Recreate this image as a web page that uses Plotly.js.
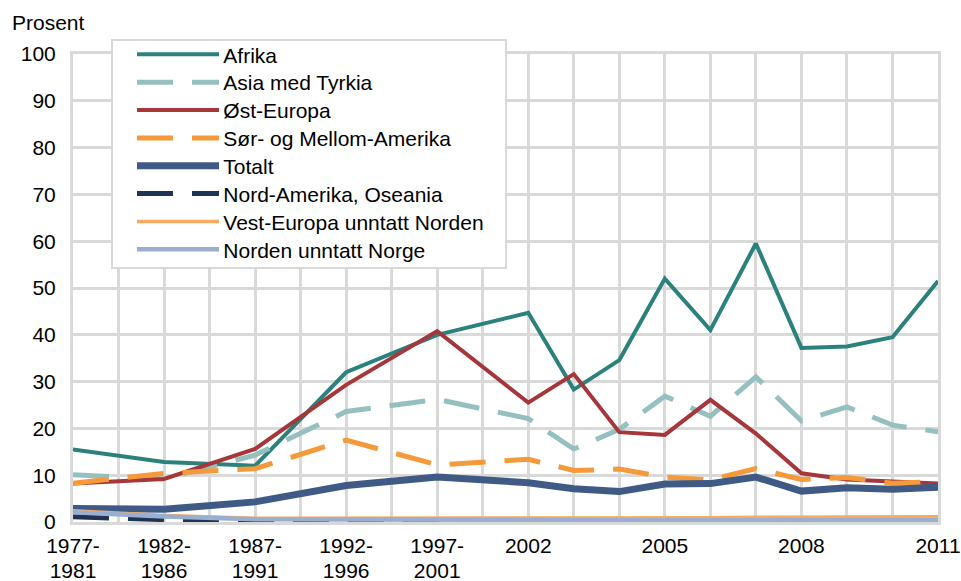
<!DOCTYPE html>
<html>
<head>
<meta charset="utf-8">
<script src="https://cdn.plot.ly/plotly-3.0.1.min.js"></script>
<style>html,body{margin:0;padding:0;background:#fff;}#chart{width:961px;height:581px;}</style>
</head>
<body>
<div id="chart"></div>
<script>
// Categories (5-year periods, then single years)
const periods = ['1977-1981','1982-1986','1987-1991','1992-1996','1997-2001','2002','2003','2004','2005','2006','2007','2008','2009','2010','2011'];
const shownLabels = ['1977-1981','1982-1986','1987-1991','1992-1996','1997-2001','2002','2005','2008','2011'];

// Series values (prosent)
const afrika = [15.5, 12.8, 12.0, 32.0, 40.0, 44.7, 28.3, 34.6, 52.0, 41.0, 59.5, 37.2, 37.5, 39.5, 51.5];
const asia   = [10.1, 9.2, 14.3, 23.6, 26.2, 22.1, 15.6, 19.8, 26.9, 22.6, 31.0, 21.6, 24.6, 20.7, 19.3];
const ostEuropa = [8.2, 9.2, 15.6, 29.3, 40.8, 25.5, 31.6, 19.2, 18.6, 26.1, 18.9, 10.4, 9.1, 8.6, 8.2];
const sorMellomAm = [8.3, 10.4, 11.4, 17.5, 12.2, 13.4, 11.0, 11.3, 9.6, 9.0, 11.4, 9.1, 9.5, 8.3, 8.6];
const totalt = [2.9, 2.7, 4.3, 7.8, 9.6, 8.4, 7.1, 6.5, 8.1, 8.2, 9.6, 6.6, 7.3, 7.0, 7.4];
const nordAmOseania = [1.1, 0.5, 0.2, 0.3, 0.3, 0.4, 0.5, 0.6, 0.6, 0.6, 0.6, 0.6, 0.6, 0.6, 0.6];
const vestEuropa = [2.4, 1.4, 0.8, 0.8, 0.8, 0.8, 0.8, 0.9, 0.9, 0.9, 1.0, 1.0, 1.1, 1.0, 1.1];
const norden = [2.1, 1.2, 0.6, 0.5, 0.5, 0.5, 0.4, 0.4, 0.4, 0.4, 0.4, 0.4, 0.4, 0.4, 0.4];

// Position on the axis: a 5-year period takes two slots, a single year one slot
const xPos = [];
let slot = 0;
periods.forEach(p => { xPos.push(slot); slot += p.includes('-') ? 2 : 1; });
const tickvals = shownLabels.map(l => xPos[periods.indexOf(l)]);
const ticktext = shownLabels.map(l => l.replace('-', '-<br>'));

const FONT = '"Liberation Sans", Arial, sans-serif';
const grid = '#d9d9d9';
const DASH = '36px,19px';

function tr(name, y, color, width, dash) {
  return {x: xPos, y: y, name: name, type: 'scatter', mode: 'lines',
          line: {color: color, width: width, dash: dash || 'solid'},
          legendgroup: name, hoverinfo: 'skip'};
}
const data = [
  tr('Afrika', afrika, '#2b817c', 4),
  tr('Asia med Tyrkia', asia, '#95c0bf', 5, DASH),
  tr('Øst-Europa', ostEuropa, '#a5363a', 4),
  tr('Sør- og Mellom-Amerika', sorMellomAm, '#f59a3a', 5, DASH),
  tr('Totalt', totalt, '#3e5a85', 7),
  tr('Nord-Amerika, Oseania', nordAmOseania, '#1f3352', 5, DASH),
  tr('Vest-Europa unntatt Norden', vestEuropa, '#f8aa60', 3.5),
  tr('Norden unntatt Norge', norden, '#9aaed2', 4.5)
];

const layout = {
  width: 961, height: 581,
  margin: {l: 73, r: 23, t: 54, b: 59},
  paper_bgcolor: '#fff', plot_bgcolor: '#fff',
  font: {family: FONT, size: 21, color: '#000'},
  showlegend: true,
  xaxis: {
    range: [0, slot - 1], tickmode: 'array', tickvals: tickvals, ticktext: ticktext,
    showgrid: true, gridcolor: grid, gridwidth: 3, zeroline: false,
    showline: true, linecolor: grid, linewidth: 3, mirror: true,
    ticks: 'outside', ticklen: 3, tickcolor: 'rgba(0,0,0,0)',
    minor: {dtick: 1, tick0: 0, showgrid: true, gridcolor: grid, gridwidth: 3},
    tickfont: {size: 21}, fixedrange: true
  },
  yaxis: {
    range: [0, 100], dtick: 10, tick0: 0,
    showgrid: true, gridcolor: grid, gridwidth: 3, zeroline: false,
    showline: true, linecolor: grid, linewidth: 3, mirror: true,
    ticks: 'outside', ticklen: 10, tickcolor: 'rgba(0,0,0,0)',
    tickfont: {size: 21}, fixedrange: true
  },
  legend: {
    x: 0.045, xanchor: 'left', y: 1.0315, yanchor: 'top',
    bgcolor: '#fff', bordercolor: grid, borderwidth: 2,
    font: {size: 21, family: FONT}, itemwidth: 100, tracegroupgap: 2,
    traceorder: 'normal'
  },
  annotations: [{
    text: 'Prosent', xref: 'paper', yref: 'paper', x: -0.0728, y: 1.096,
    xanchor: 'left', yanchor: 'top', showarrow: false, font: {size: 21}
  }]
};

// Legend geometry (page pixels)
const LEG = {left: 113.3, top: 41, width: 394, height: 228, row0: 55, rowStep: 27.86,
             textLeft: 223.3, lineLeft: 137, lineRight: 219};

function parseT(el) {
  const m = /translate\(\s*([-\d.e]+)[ ,]\s*([-\d.e]+)\s*\)/.exec(el.getAttribute('transform') || '');
  return m ? [parseFloat(m[1]), parseFloat(m[2])] : [0, 0];
}

Plotly.newPlot('chart', data, layout, {displayModeBar: false, staticPlot: true}).then(gd => {
  // tighter line spacing for two-line x tick labels
  gd.querySelectorAll('.xtick text tspan.line').forEach(t => {
    if (t.getAttribute('dy') && t.getAttribute('dy') !== '0em') t.setAttribute('dy', '1.18em');
  });
  const legend = gd.querySelector('.legend');
  if (!legend) return;
  const sb = legend.querySelector('.scrollbox');
  if (sb) sb.removeAttribute('clip-path');
  const bg = legend.querySelector('rect.bg');
  if (bg) {
    const r = bg.getBoundingClientRect();
    const x0 = parseFloat(bg.getAttribute('x') || 0), y0 = parseFloat(bg.getAttribute('y') || 0);
    const sw = parseFloat(getComputedStyle(bg).strokeWidth) || 2;
    bg.setAttribute('x', x0 + (LEG.left - (r.left + sw / 2)));
    bg.setAttribute('y', y0 + (LEG.top - (r.top + sw / 2)));
    bg.setAttribute('width', LEG.width);
    bg.setAttribute('height', LEG.height);
  }
  legend.querySelectorAll('.traces').forEach((g, i) => {
    const txt = g.querySelector('.legendtext');
    const tb = txt.getBoundingClientRect();
    const [a, b] = parseT(g);
    const dx = LEG.textLeft - tb.left;
    const dy = (LEG.row0 + i * LEG.rowStep) - (tb.top + tb.height / 2);
    g.setAttribute('transform', `translate(${a + dx},${b + dy})`);
    const p = g.querySelector('.legendlines path');
    if (p) {
      const m = p.parentNode.getScreenCTM();
      p.setAttribute('d', `M${LEG.lineLeft - m.e},0h${LEG.lineRight - LEG.lineLeft}`);
    }
  });
});
</script>
</body>
</html>
